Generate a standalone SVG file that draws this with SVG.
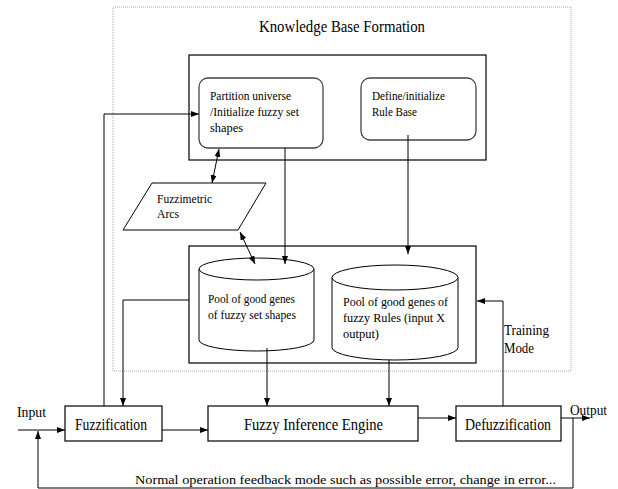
<svg xmlns="http://www.w3.org/2000/svg" width="618" height="489" viewBox="0 0 618 489" font-family="'Liberation Serif', 'DejaVu Serif', serif">
<style>
text{font-family:'Liberation Serif','DejaVu Serif',serif;fill:#000}
.s{font-size:13px}
.m{font-size:16px}
.ln{fill:none;stroke:#000;stroke-width:1}
.box{fill:#fff;stroke:#000;stroke-width:1.2}
.rb{fill:#fff;stroke:#444;stroke-width:1.3}
</style>
<defs>
<marker id="ah" markerWidth="8" markerHeight="6" refX="8" refY="3" orient="auto-start-reverse" markerUnits="userSpaceOnUse">
<path d="M0,0 L8,3 L0,6 z" fill="#000"/>
</marker>
</defs>
<rect width="618" height="489" fill="#fff"/>
<g id="kb-frame">
<rect x="113" y="7" width="458" height="364" fill="none" stroke="#aaa" stroke-width="1" stroke-dasharray="1,1"/>
<text x="259" y="32" font-size="17" textLength="166" lengthAdjust="spacingAndGlyphs">Knowledge Base Formation</text>
</g>
<g id="upper-box"><rect class="box" x="189" y="55" width="297" height="105"/></g>
<g id="lower-box"><rect class="box" x="189" y="246" width="287" height="117"/></g>
<g id="partition">
<rect class="rb" x="199" y="78" width="124" height="70" rx="9"/>
<text class="s" x="210" y="100" textLength="81" lengthAdjust="spacingAndGlyphs">Partition universe</text>
<text class="s" x="210" y="116" textLength="89" lengthAdjust="spacingAndGlyphs">/Initialize fuzzy set</text>
<text class="s" x="210" y="132" textLength="33" lengthAdjust="spacingAndGlyphs">shapes</text>
</g>
<g id="rulebase">
<rect class="rb" x="361" y="78" width="115" height="62" rx="9"/>
<text class="s" x="372" y="100" textLength="73" lengthAdjust="spacingAndGlyphs">Define/initialize</text>
<text class="s" x="372" y="116" textLength="45" lengthAdjust="spacingAndGlyphs">Rule Base</text>
</g>
<g id="fuzzimetric">
<polygon points="152,183 266,183 238,230 123,230" fill="#fff" stroke="#000" stroke-width="1"/>
<text class="s" x="157" y="203" textLength="55" lengthAdjust="spacingAndGlyphs">Fuzzimetric</text>
<text class="s" x="157" y="218" textLength="22" lengthAdjust="spacingAndGlyphs">Arcs</text>
</g>
<g id="pool-shapes">
<path d="M199,269 L199,340 A57.5,11 0 0 0 314,340 L314,269" fill="#fff" stroke="#000" stroke-width="1"/>
<ellipse cx="256.5" cy="269" rx="57.5" ry="11" fill="#fff" stroke="#000" stroke-width="1"/>
<text class="s" x="208" y="303" textLength="87" lengthAdjust="spacingAndGlyphs">Pool of good genes</text>
<text class="s" x="208" y="319" textLength="88" lengthAdjust="spacingAndGlyphs">of fuzzy set shapes</text>
</g>
<g id="pool-rules">
<path d="M332,277.5 L332,347.5 A63,12.5 0 0 0 458,347.5 L458,277.5" fill="#fff" stroke="#000" stroke-width="1"/>
<ellipse cx="395" cy="277.5" rx="63" ry="12.5" fill="#fff" stroke="#000" stroke-width="1"/>
<text class="s" x="343" y="306" textLength="105" lengthAdjust="spacingAndGlyphs">Pool of good genes of</text>
<text class="s" x="343" y="322" textLength="102" lengthAdjust="spacingAndGlyphs">fuzzy Rules (input X</text>
<text class="s" x="343" y="338" textLength="36" lengthAdjust="spacingAndGlyphs">output)</text>
</g>
<g id="fuzzification">
<rect class="box" x="65" y="406" width="97" height="35"/>
<text class="m" x="75" y="430" textLength="72" lengthAdjust="spacingAndGlyphs">Fuzzification</text>
</g>
<g id="fie">
<rect class="box" x="208" y="406" width="210" height="35"/>
<text class="m" x="244" y="430" textLength="139" lengthAdjust="spacingAndGlyphs">Fuzzy Inference Engine</text>
</g>
<g id="defuzzification">
<rect class="box" x="456" y="406" width="105" height="35"/>
<text class="m" x="465" y="430" textLength="86" lengthAdjust="spacingAndGlyphs">Defuzzification</text>
</g>
<g id="connectors">
<polyline class="ln" points="104,406 104,114 199,114" marker-end="url(#ah)"/>
<line class="ln" x1="212" y1="183" x2="219" y2="149" marker-start="url(#ah)" marker-end="url(#ah)"/>
<line class="ln" x1="240" y1="232" x2="255" y2="264" marker-start="url(#ah)" marker-end="url(#ah)"/>
<line class="ln" x1="285" y1="148" x2="285" y2="264" marker-end="url(#ah)"/>
<line class="ln" x1="408" y1="135" x2="408" y2="254" marker-end="url(#ah)"/>
<polyline class="ln" points="189,300 123,300 123,406" marker-end="url(#ah)"/>
<line class="ln" x1="267" y1="348" x2="267" y2="406" marker-end="url(#ah)"/>
<line class="ln" x1="389" y1="360" x2="389" y2="406" marker-end="url(#ah)"/>
<polyline class="ln" points="503,406 503,301 477,301" marker-end="url(#ah)"/>
<line class="ln" x1="18" y1="430" x2="65" y2="430" marker-end="url(#ah)"/>
<line class="ln" x1="162" y1="430" x2="208" y2="430" marker-end="url(#ah)"/>
<line class="ln" x1="418" y1="418" x2="456" y2="418" marker-end="url(#ah)"/>
<line class="ln" x1="561" y1="418" x2="590" y2="418" marker-end="url(#ah)"/>
<polyline class="ln" points="573,418 573,488 38,488 38,431" marker-end="url(#ah)"/>
<text x="17" y="417" font-size="14" textLength="29" lengthAdjust="spacingAndGlyphs">Input</text>
<text x="570" y="415" font-size="14" textLength="37" lengthAdjust="spacingAndGlyphs">Output</text>
<text x="504" y="335" font-size="15" textLength="45" lengthAdjust="spacingAndGlyphs">Training</text>
<text x="504" y="353" font-size="15" textLength="30" lengthAdjust="spacingAndGlyphs">Mode</text>
<text x="135" y="484" font-size="13" textLength="421" lengthAdjust="spacingAndGlyphs">Normal operation feedback mode such as possible error, change in error...</text>
</g>
</svg>
